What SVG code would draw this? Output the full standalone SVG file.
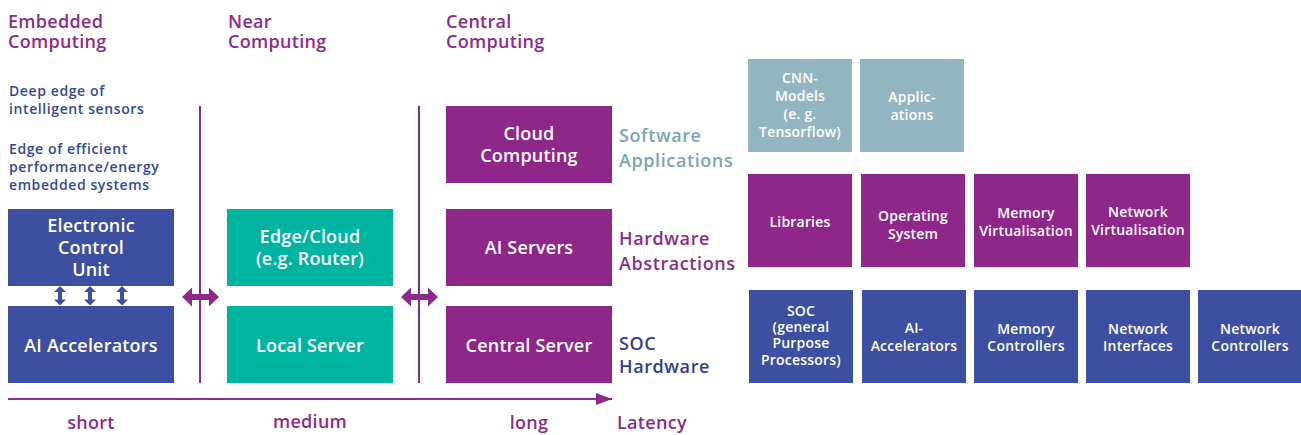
<svg xmlns="http://www.w3.org/2000/svg" width="1301" height="435" viewBox="0 0 1301 435">
<style>
text{font-family:"Open Sans","Liberation Sans",sans-serif;}
.title{font-size:18px;font-weight:600;fill:#8e2a8b;letter-spacing:0.3px;}
.desc{font-size:14px;font-weight:600;fill:#2f4a98;letter-spacing:0.6px;}
.bt{font-size:18px;font-weight:600;fill:#fff;text-anchor:middle;letter-spacing:0.2px;}
.st{font-size:14px;font-weight:600;fill:#fff;text-anchor:middle;letter-spacing:0.2px;}
.lab{font-size:18px;font-weight:600;letter-spacing:0.6px;}
.blue{fill:#3d4fa0;}
.teal{fill:#00b5a0;}
.purple{fill:#8f268a;}
.grey{fill:#93b5bf;}
.lat{font-size:18px;font-weight:600;fill:#8e2a8b;letter-spacing:0.3px;}
</style>
<defs>
<marker id="ah" markerWidth="16" markerHeight="12" refX="16" refY="6" orient="auto" markerUnits="userSpaceOnUse">
<path d="M0,0 L16,6 L0,12 Z" fill="#8e2a8b"/>
</marker>
</defs>

<g id="headers">
<text class="title" x="8" y="28">Embedded</text>
<text class="title" x="8" y="48">Computing</text>
<text class="title" x="228" y="28">Near</text>
<text class="title" x="228" y="48">Computing</text>
<text class="title" x="446" y="28">Central</text>
<text class="title" x="446" y="48">Computing</text>
<text class="desc" x="9" y="96">Deep edge of</text>
<text class="desc" x="9" y="114">intelligent sensors</text>
<text class="desc" x="9" y="154">Edge of efficient</text>
<text class="desc" x="9" y="172">performance/energy</text>
<text class="desc" x="9" y="190">embedded systems</text>
</g>

<g id="ecu"><rect class="blue" x="8" y="209" width="166" height="77"/>
<text class="bt" x="91" y="232">Electronic</text><text class="bt" x="91" y="254">Control</text><text class="bt" x="91" y="276">Unit</text></g>
<g id="ai-accelerators"><rect class="blue" x="8" y="306" width="166" height="77"/>
<text class="bt" x="91" y="352">AI Accelerators</text></g>
<g id="edge-cloud"><rect class="teal" x="227" y="209" width="166" height="77"/>
<text class="bt" x="310" y="243">Edge/Cloud</text><text class="bt" x="310" y="265">(e.g. Router)</text></g>
<g id="local-server"><rect class="teal" x="227" y="306" width="166" height="77"/>
<text class="bt" x="310" y="352">Local Server</text></g>
<g id="cloud-computing"><rect class="purple" x="446" y="106" width="166" height="77"/>
<text class="bt" x="529" y="140">Cloud</text><text class="bt" x="529" y="162">Computing</text></g>
<g id="ai-servers"><rect class="purple" x="446" y="209" width="166" height="77"/>
<text class="bt" x="529" y="254">AI Servers</text></g>
<g id="central-server"><rect class="purple" x="446" y="306" width="166" height="77"/>
<text class="bt" x="529" y="352">Central Server</text></g>

<g id="layer-labels">
<text class="lab" x="619" y="142" fill="#7aa6b3">Software</text>
<text class="lab" x="619" y="167" fill="#7aa6b3">Applications</text>
<text class="lab" x="619" y="245" fill="#8e2a8b">Hardware</text>
<text class="lab" x="619" y="270" fill="#8e2a8b">Abstractions</text>
<text class="lab" x="619" y="350" fill="#2e3f8f">SOC</text>
<text class="lab" x="619" y="373" fill="#2e3f8f">Hardware</text>
</g>

<g id="cnn-models"><rect class="grey" x="748" y="59" width="104" height="93"/>
<text class="st" x="800" y="83">CNN-</text><text class="st" x="800" y="101">Models</text><text class="st" x="800" y="119">(e. g.</text><text class="st" x="800" y="137">Tensorflow)</text></g>
<g id="applications"><rect class="grey" x="860" y="59" width="104" height="93"/>
<text class="st" x="912" y="102">Applic-</text><text class="st" x="912" y="120">ations</text></g>

<g id="libraries"><rect class="purple" x="748" y="174" width="104" height="93"/>
<text class="st" x="800" y="227">Libraries</text></g>
<g id="operating-system"><rect class="purple" x="861" y="174" width="104" height="93"/>
<text class="st" x="913" y="221">Operating</text><text class="st" x="913" y="239">System</text></g>
<g id="memory-virtualisation"><rect class="purple" x="974" y="174" width="104" height="93"/>
<text class="st" x="1026" y="218">Memory</text><text class="st" x="1026" y="236" letter-spacing="0">Virtualisation</text></g>
<g id="network-virtualisation"><rect class="purple" x="1086" y="174" width="104" height="93"/>
<text class="st" x="1138" y="217">Network</text><text class="st" x="1138" y="235" letter-spacing="0">Virtualisation</text></g>

<g id="soc"><rect class="blue" x="749" y="290" width="104" height="93"/>
<text class="st" x="801" y="316">SOC</text><text class="st" x="801" y="332">(general</text><text class="st" x="801" y="348">Purpose</text><text class="st" x="801" y="365">Processors)</text></g>
<g id="ai-accel-hw"><rect class="blue" x="862" y="290" width="104" height="93"/>
<text class="st" x="914" y="333">AI-</text><text class="st" x="914" y="351">Accelerators</text></g>
<g id="memory-controllers"><rect class="blue" x="974" y="290" width="104" height="93"/>
<text class="st" x="1026" y="334">Memory</text><text class="st" x="1026" y="351">Controllers</text></g>
<g id="network-interfaces"><rect class="blue" x="1086" y="290" width="104" height="93"/>
<text class="st" x="1138" y="334">Network</text><text class="st" x="1138" y="351">Interfaces</text></g>
<g id="network-controllers"><rect class="blue" x="1198" y="290" width="103" height="93"/>
<text class="st" x="1250" y="334">Network</text><text class="st" x="1250" y="351">Controllers</text></g>

<g id="connectors">
<line x1="200" y1="106" x2="200" y2="383" stroke="#8e2a8b" stroke-width="2"/>
<line x1="419" y1="106" x2="419" y2="383" stroke="#8e2a8b" stroke-width="2"/>
<polygon points="182,297 192,287.5 192,294 209,294 209,287.5 219,297 209,306.5 209,300 192,300 192,306.5" fill="#8e2a8b"/>
<polygon points="401,297 411,287.5 411,294 428,294 428,287.5 438,297 428,306.5 428,300 411,300 411,306.5" fill="#8e2a8b"/>
<polygon points="60,286 54,292 58,292 58,299.5 54,299.5 60,305.5 66,299.5 62,299.5 62,292 66,292" fill="#3d4fa0"/>
<polygon points="90,286 84,292 88,292 88,299.5 84,299.5 90,305.5 96,299.5 92,299.5 92,292 96,292" fill="#3d4fa0"/>
<polygon points="122,286 116,292 120,292 120,299.5 116,299.5 122,305.5 128,299.5 124,299.5 124,292 128,292" fill="#3d4fa0"/>
<line x1="8" y1="399" x2="612" y2="399" stroke="#8e2a8b" stroke-width="2" marker-end="url(#ah)"/>
</g>

<g id="latency-labels">
<text class="lat" x="91" y="429" text-anchor="middle">short</text>
<text class="lat" x="310" y="428" text-anchor="middle">medium</text>
<text class="lat" x="529" y="429" text-anchor="middle">long</text>
<text class="lat" x="617" y="429">Latency</text>
</g>
</svg>
